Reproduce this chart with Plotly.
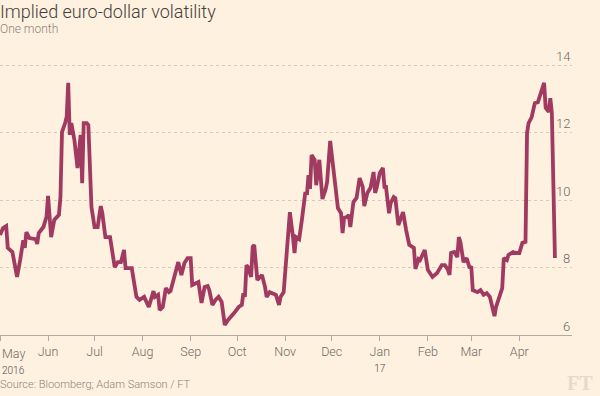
import plotly.graph_objects as go

dates = [
    "2016-05-01","2016-05-03","2016-05-05","2016-05-06","2016-05-09","2016-05-12","2016-05-14","2016-05-16","2016-05-17","2016-05-18","2016-05-20","2016-05-24","2016-05-25","2016-05-26","2016-05-29","2016-05-31",
    "2016-06-01","2016-06-03","2016-06-05","2016-06-08","2016-06-09","2016-06-10","2016-06-12","2016-06-13","2016-06-14","2016-06-15","2016-06-16","2016-06-18","2016-06-20","2016-06-22","2016-06-23","2016-06-24","2016-06-26","2016-06-27","2016-06-29",
    "2016-07-01","2016-07-03","2016-07-05","2016-07-06","2016-07-08","2016-07-11","2016-07-14","2016-07-16","2016-07-18","2016-07-20","2016-07-21","2016-07-25","2016-07-28","2016-07-30",
    "2016-08-02","2016-08-05","2016-08-08","2016-08-09","2016-08-11","2016-08-12","2016-08-14","2016-08-16","2016-08-18","2016-08-19","2016-08-22","2016-08-24","2016-08-26","2016-08-28","2016-08-30",
    "2016-09-01","2016-09-02","2016-09-05","2016-09-06","2016-09-08","2016-09-10","2016-09-12","2016-09-13","2016-09-15","2016-09-17","2016-09-19","2016-09-21","2016-09-23","2016-09-25","2016-09-29",
    "2016-10-02","2016-10-04","2016-10-05","2016-10-06","2016-10-07","2016-10-08","2016-10-10","2016-10-11","2016-10-12","2016-10-14","2016-10-16","2016-10-17","2016-10-19","2016-10-20","2016-10-22","2016-10-24","2016-10-26","2016-10-28","2016-10-29","2016-10-31",
    "2016-11-02","2016-11-03","2016-11-04","2016-11-06","2016-11-07","2016-11-08","2016-11-10","2016-11-12","2016-11-14","2016-11-15","2016-11-16","2016-11-17","2016-11-18","2016-11-20","2016-11-21","2016-11-23","2016-11-25","2016-11-27","2016-11-28","2016-11-30",
    "2016-12-02","2016-12-05","2016-12-07","2016-12-08","2016-12-09","2016-12-11","2016-12-12","2016-12-13","2016-12-15","2016-12-17","2016-12-19","2016-12-21","2016-12-22","2016-12-24","2016-12-26","2016-12-28","2016-12-29","2016-12-30",
    "2017-01-01","2017-01-03","2017-01-04","2017-01-05","2017-01-07","2017-01-08","2017-01-10","2017-01-11","2017-01-13","2017-01-15","2017-01-16","2017-01-18","2017-01-20","2017-01-23","2017-01-24","2017-01-26","2017-01-27","2017-01-30",
    "2017-02-01","2017-02-04","2017-02-07","2017-02-10","2017-02-12","2017-02-14","2017-02-15","2017-02-16","2017-02-18","2017-02-20","2017-02-21","2017-02-22","2017-02-24","2017-02-26","2017-02-28",
    "2017-03-01","2017-03-02","2017-03-05","2017-03-07","2017-03-09","2017-03-11","2017-03-13","2017-03-14","2017-03-16","2017-03-17","2017-03-19","2017-03-20","2017-03-21","2017-03-22","2017-03-24","2017-03-25","2017-03-28","2017-03-30",
    "2017-04-01","2017-04-03","2017-04-05","2017-04-06","2017-04-07","2017-04-09","2017-04-11","2017-04-13","2017-04-15","2017-04-17","2017-04-18","2017-04-20","2017-04-21","2017-04-22","2017-04-24",
]

volatility = [
    8.96, 9.17, 9.23, 8.58, 8.46, 7.72, 8.22, 8.81, 8.58, 9.05, 8.87, 8.84, 8.70, 9.02, 9.20, 9.50,
    10.12, 8.90, 9.41, 9.56, 10.09, 12.01, 12.28, 12.46, 13.47, 11.93, 12.28, 11.78, 10.95, 11.93, 10.50, 12.28, 12.28, 12.22, 9.79,
    9.20, 9.20, 9.82, 9.61, 8.90, 8.90, 8.01, 8.16, 8.16, 8.52, 7.98, 7.98, 7.13, 7.04,
    7.13, 6.83, 7.30, 7.13, 7.19, 6.74, 6.83, 7.39, 7.27, 7.30, 7.84, 8.16, 7.78, 8.13, 8.28,
    8.28, 7.48, 7.54, 7.57, 6.95, 7.42, 7.45, 7.33, 6.89, 7.04, 7.13, 6.98, 6.30, 6.44, 6.65,
    6.83, 6.89, 7.24, 7.13, 8.07, 8.01, 7.72, 8.61, 8.67, 7.63, 7.72, 7.78, 7.42, 7.13, 7.27, 7.24, 7.19, 6.89, 7.13, 7.27,
    8.52, 8.81, 9.64, 8.90, 8.43, 8.90, 8.84, 9.50, 10.24, 10.15, 10.74, 10.33, 11.33, 11.19, 10.44, 11.19, 10.03, 10.30, 10.53, 11.75,
    10.89, 9.76, 9.61, 9.02, 9.47, 9.50, 9.56, 9.20, 9.94, 10.06, 10.65, 10.39, 9.82, 10.21, 10.36, 10.83, 10.21, 10.36,
    10.80, 10.95, 10.39, 10.39, 9.61, 9.91, 10.09, 10.06, 9.26, 9.47, 9.64, 9.11, 8.67, 8.58, 7.96, 8.25, 8.22, 8.52,
    7.93, 7.72, 7.84, 8.07, 8.07, 7.93, 7.78, 8.43, 8.46, 8.31, 8.90, 8.76, 8.16, 8.28, 7.98,
    8.04, 7.33, 7.27, 7.33, 7.19, 7.24, 7.13, 6.95, 6.56, 6.83, 7.13, 7.21, 7.39, 8.28, 8.22, 8.37, 8.46, 8.43,
    8.43, 8.73, 8.76, 11.99, 12.28, 12.46, 12.87, 12.90, 13.20, 13.47, 12.73, 12.61, 13.02, 12.58, 8.28,
]

month_ticks = ["2016-05-01","2016-06-01","2016-07-01","2016-08-01","2016-09-01","2016-10-01",
               "2016-11-01","2016-12-01","2017-01-01","2017-02-01","2017-03-01","2017-04-01"]
month_labels = ["", "Jun", "Jul", "Aug", "Sep", "Oct", "Nov", "Dec",
                "Jan<br><span style='font-size:10px;color:#4f4a46'>17</span>", "Feb", "Mar", "Apr"]
y_ticks = [6, 8, 10, 12, 14]

BG = "#fff1e0"
LINE = "#a13a60"
GREY = "#6f6a66"

fig = go.Figure()
fig.add_trace(go.Scatter(x=dates, y=volatility, mode="lines",
                         line=dict(color=LINE, width=3.8), hoverinfo="skip",
                         showlegend=False))

annotations = [
    dict(text="Implied euro-dollar volatility", x=0, y=(335 - 13) / 270, xref="paper", yref="paper",
         xanchor="left", yanchor="middle", showarrow=False, xshift=-2,
         font=dict(family="Roboto", size=18, weight=300, color="#43403c")),
    dict(text="One month", x=0, y=(335 - 30.5) / 270, xref="paper", yref="paper",
         xanchor="left", yanchor="middle", showarrow=False, xshift=-2,
         font=dict(family="Roboto", size=12, weight=300, color="#8b857f")),
    dict(text="May<br><span style='font-size:10px;color:#4f4a46'>2016</span>", x=0, y=(335 - 344) / 270,
         xref="paper", yref="paper", xanchor="left", yanchor="top", showarrow=False, align="left",
         font=dict(family="Roboto", size=12.5, weight=300, color=GREY)),
    dict(text="Source: Bloomberg; Adam Samson / FT", x=0, y=(335 - 384) / 270, xref="paper", yref="paper",
         xanchor="left", yanchor="middle", showarrow=False, xshift=-2,
         font=dict(family="Roboto", size=11, weight=300, color="#8b857f")),
    dict(text="<b>FT</b>", x=594 / 572, y=(335 - 383) / 270, xref="paper", yref="paper",
         xanchor="right", yanchor="middle", showarrow=False, borderpad=0,
         font=dict(family="Liberation Serif", size=20, color="#e6d9ca")),
]
for v in y_ticks:
    annotations.append(dict(text=str(v), x=1, y=v, xref="paper", yref="y",
                            xanchor="right", yanchor="middle", yshift=9, showarrow=False,
                            font=dict(family="Roboto", size=13, weight=300, color=GREY)))

fig.update_layout(
    width=600, height=396,
    margin=dict(l=0, r=28, t=64, b=61),
    paper_bgcolor=BG, plot_bgcolor=BG,
    font=dict(family="Roboto", color=GREY),
    xaxis=dict(range=["2016-05-01", "2017-05-05"], tickvals=month_ticks, ticktext=month_labels,
               showgrid=False, showline=True, linecolor="#b3aba2", linewidth=1,
               ticks="outside", ticklen=5, tickcolor="#b3aba2", tickwidth=1,
               tickfont=dict(size=12.5, color=GREY, weight=300), zeroline=False, fixedrange=True),
    yaxis=dict(range=[6, 14.03], tickvals=y_ticks, side="right", showticklabels=False,
               showgrid=True, gridcolor="#d6cbbf", griddash="dot", gridwidth=1,
               showline=False, zeroline=False, ticks="", fixedrange=True),
    annotations=annotations,
)

fig.write_html("out.html", config={"displayModeBar": False},
               post_script="document.body.style.margin='0';document.body.style.padding='0';")
